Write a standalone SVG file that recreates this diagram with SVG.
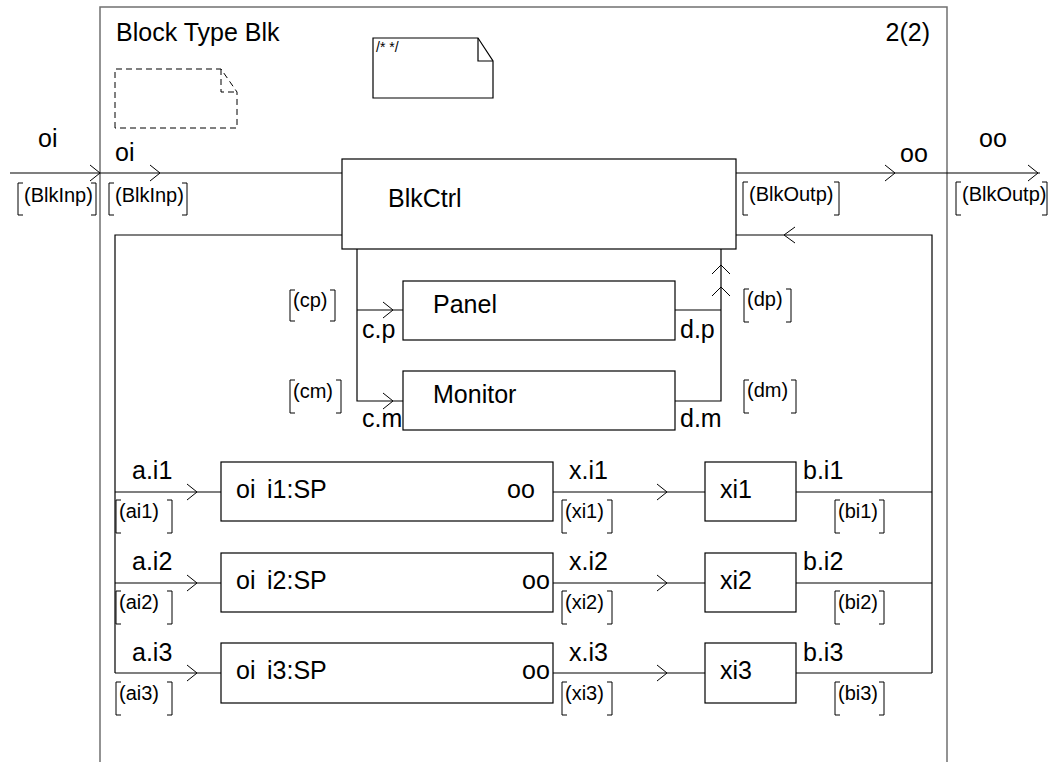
<svg xmlns="http://www.w3.org/2000/svg" width="1053" height="762" viewBox="0 0 1053 762">
<style>
text{font-family:"Liberation Sans",Arial,sans-serif;fill:#000}
.big{font-size:25px}
.sm{font-size:20px}
.tiny{font-size:14px}
.box{fill:#fff;stroke:#000;stroke-width:1.2}
.ln{fill:none;stroke:#000;stroke-width:1.2}
.arr{fill:none;stroke:#000;stroke-width:1}
.br{fill:none;stroke:#000;stroke-width:1}
.frame{fill:none;stroke:#707070;stroke-width:1.5}
.dash{fill:none;stroke:#000;stroke-width:1;stroke-dasharray:6,4}
</style>
<rect width="1053" height="762" fill="#fff"/>
<g id="frame">
<path class="frame" d="M100 762 V7 H947 V762"/>
<text class="big" x="116" y="41">Block Type Blk</text>
<text class="big" x="930" y="41" text-anchor="end">2(2)</text>
</g>
<g id="dashed-note">
<path class="dash" d="M115 128 V69 H221 L237 92 V128 Z"/>
<path class="dash" d="M221 69 V92 H237"/>
</g>
<g id="comment">
<path class="box" d="M373 98 V38 H478 L493 61 V98 Z"/>
<path class="ln" d="M478 38 V61 H493" stroke="#666"/>
<text class="tiny" x="376" y="52">/* */</text>
</g>
<g id="connectors">
<path class="ln" d="M10 173 H342"/>
<path class="arr" d="M90 165 L100 173 L90 181"/>
<path class="arr" d="M150 165 L160 173 L150 181"/>
<text class="big" x="38" y="147">oi</text>
<text class="big" x="115" y="161">oi</text>
<path class="br" d="M23 183 H18 V215 H23 M91 183 H96 V215 H91"/>
<text class="sm" x="24" y="202">(BlkInp)</text>
<path class="br" d="M114 183 H109 V215 H114 M182 183 H187 V215 H182"/>
<text class="sm" x="115" y="202">(BlkInp)</text>
<path class="ln" d="M736 173 H1040"/>
<path class="arr" d="M885 165 L895 173 L885 181"/>
<path class="arr" d="M1028 165 L1038 173 L1028 181"/>
<text class="big" x="900" y="162">oo</text>
<text class="big" x="979" y="147">oo</text>
<path class="br" d="M748 182 H743 V215 H748 M834 182 H839 V215 H834"/>
<text class="sm" x="749" y="201">(BlkOutp)</text>
<path class="br" d="M961 182 H956 V215 H961 M1042 182 H1047 V215 H1042"/>
<text class="sm" x="962" y="201">(BlkOutp)</text>
<path class="ln" d="M342 235 H115 V673"/>
<path class="ln" d="M736 235 H932 V673"/>
<path class="arr" d="M795 227 L784 235 L795 243"/>
<path class="ln" d="M357 249 V401 H403 M357 310 H403"/>
<path class="arr" d="M383 302 L393 310 L383 318"/>
<path class="arr" d="M383 393 L393 401 L383 409"/>
<path class="ln" d="M675 310 H721 M675 401 H721 V249"/>
<path class="arr" d="M712 274 L721 265 L730 274"/>
<path class="arr" d="M712 296 L721 287 L730 296"/>
<text class="big" x="362" y="338">c.p</text>
<text class="big" x="362" y="427">c.m</text>
<text class="big" x="680" y="338">d.p</text>
<text class="big" x="680" y="427">d.m</text>
<path class="br" d="M295 290 H290 V321 H295 M330 290 H335 V321 H330"/>
<text class="sm" x="293" y="307">(cp)</text>
<path class="br" d="M295 380 H290 V413 H295 M336 380 H341 V413 H336"/>
<text class="sm" x="293" y="398">(cm)</text>
<path class="br" d="M749 289 H744 V322 H749 M786 289 H791 V322 H786"/>
<text class="sm" x="747" y="306">(dp)</text>
<path class="br" d="M749 380 H744 V413 H749 M791 380 H796 V413 H791"/>
<text class="sm" x="747" y="397">(dm)</text>
<path class="ln" d="M115 492 H221 M553 492 H705 M796 492 H932"/>
<path class="arr" d="M187 484 L197 492 L187 500"/>
<path class="arr" d="M657 484 L667 492 L657 500"/>
<text class="big" x="132" y="479">a.i1</text>
<text class="big" x="569" y="479">x.i1</text>
<text class="big" x="803" y="479">b.i1</text>
<path class="br" d="M121 500 H116 V533 H121 M167 500 H172 V533 H167"/>
<text class="sm" x="119" y="518">(ai1)</text>
<path class="br" d="M567 500 H562 V533 H567 M607 500 H612 V533 H607"/>
<text class="sm" x="565" y="518">(xi1)</text>
<path class="br" d="M840 500 H835 V533 H840 M879 500 H884 V533 H879"/>
<text class="sm" x="838" y="518">(bi1)</text>
<path class="ln" d="M115 583 H221 M553 583 H705 M796 583 H932"/>
<path class="arr" d="M187 575 L197 583 L187 591"/>
<path class="arr" d="M657 575 L667 583 L657 591"/>
<text class="big" x="132" y="570">a.i2</text>
<text class="big" x="569" y="570">x.i2</text>
<text class="big" x="803" y="570">b.i2</text>
<path class="br" d="M121 591 H116 V624 H121 M167 591 H172 V624 H167"/>
<text class="sm" x="119" y="609">(ai2)</text>
<path class="br" d="M567 591 H562 V624 H567 M607 591 H612 V624 H607"/>
<text class="sm" x="565" y="609">(xi2)</text>
<path class="br" d="M840 591 H835 V624 H840 M879 591 H884 V624 H879"/>
<text class="sm" x="838" y="609">(bi2)</text>
<path class="ln" d="M115 673 H221 M553 673 H705 M796 673 H932"/>
<path class="arr" d="M187 665 L197 673 L187 681"/>
<path class="arr" d="M657 665 L667 673 L657 681"/>
<text class="big" x="132" y="661">a.i3</text>
<text class="big" x="569" y="661">x.i3</text>
<text class="big" x="803" y="661">b.i3</text>
<path class="br" d="M121 682 H116 V715 H121 M167 682 H172 V715 H167"/>
<text class="sm" x="119" y="700">(ai3)</text>
<path class="br" d="M567 682 H562 V715 H567 M607 682 H612 V715 H607"/>
<text class="sm" x="565" y="700">(xi3)</text>
<path class="br" d="M840 682 H835 V715 H840 M879 682 H884 V715 H879"/>
<text class="sm" x="838" y="700">(bi3)</text>
</g>
<g id="BlkCtrl">
<rect class="box" x="342" y="159" width="394" height="90"/>
<text class="big" x="388" y="207">BlkCtrl</text>
</g>
<g id="Panel">
<rect class="box" x="403" y="281" width="272" height="59"/>
<text class="big" x="433" y="313">Panel</text>
</g>
<g id="Monitor">
<rect class="box" x="403" y="371" width="272" height="59"/>
<text class="big" x="433" y="403">Monitor</text>
</g>
<g id="i1">
<rect class="box" x="221" y="462" width="332" height="59"/>
<text class="big" x="236" y="498">oi</text>
<text class="big" x="267" y="498">i1:SP</text>
<text class="big" x="507" y="498">oo</text>
</g>
<g id="i2">
<rect class="box" x="221" y="553" width="332" height="59"/>
<text class="big" x="236" y="589">oi</text>
<text class="big" x="267" y="589">i2:SP</text>
<text class="big" x="522" y="589">oo</text>
</g>
<g id="i3">
<rect class="box" x="221" y="643" width="332" height="60"/>
<text class="big" x="236" y="679">oi</text>
<text class="big" x="267" y="679">i3:SP</text>
<text class="big" x="522" y="679">oo</text>
</g>
<g id="xi1">
<rect class="box" x="705" y="462" width="91" height="59"/>
<text class="big" x="720" y="498">xi1</text>
</g>
<g id="xi2">
<rect class="box" x="705" y="553" width="91" height="59"/>
<text class="big" x="720" y="589">xi2</text>
</g>
<g id="xi3">
<rect class="box" x="705" y="643" width="91" height="60"/>
<text class="big" x="720" y="679">xi3</text>
</g>
</svg>
